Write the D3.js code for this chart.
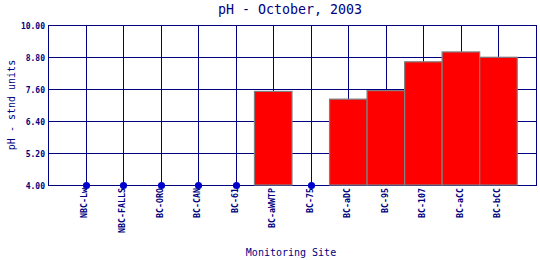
<!DOCTYPE html>
<html>
<head>
<meta charset="utf-8">
<script src="https://cdn.jsdelivr.net/npm/d3@7"></script>
<style>
  body { margin: 0; background: #fff; }
  text { font-family: "DejaVu Sans Mono", monospace; fill: #000080; }
</style>
</head>
<body>
<svg id="chart" width="540" height="260"></svg>
<script>
"use strict";

// sites along the x axis
var sites = ["NBC-Lw", "NBC-FALLS", "BC-ORO", "BC-CAN", "BC-61", "BC-aWWTP",
             "BC-75", "BC-aDC", "BC-95", "BC-107", "BC-aCC", "BC-bCC"];
// pH bars (null = no bar)
var phValues = [null, null, null, null, null, 7.51, null, 7.22, 7.54, 8.62, 8.99, 8.79];
// point series shown at the axis floor
var pointValues = [4.0, 4.0, 4.0, 4.0, 4.0, null, 4.0, null, null, null, null, null];
var yTicks = [4.00, 5.20, 6.40, 7.60, 8.80, 10.00];

var svg = d3.select("#chart");
var plotL = 48, plotR = 536, plotT = 25, plotB = 185;
var navy = "#000080";

var x = d3.scaleLinear().domain([0, sites.length + 1]).range([plotL, plotR]);
var y = d3.scaleLinear().domain([4, 10]).range([plotB, plotT]);
var step = x(1) - x(0);

// grid
var grid = svg.append("g").attr("class", "grid");
d3.range(0, sites.length + 2).forEach(function (i) {
    var xp = Math.round(x(i)) + 0.5;
    grid.append("line").attr("x1", xp).attr("x2", xp)
        .attr("y1", plotT).attr("y2", plotB)
        .attr("stroke", navy).attr("stroke-width", 1);
});
yTicks.forEach(function (t) {
    var yp = Math.round(y(t)) + 0.5;
    grid.append("line").attr("x1", plotL).attr("x2", plotR + 1)
        .attr("y1", yp).attr("y2", yp)
        .attr("stroke", navy).attr("stroke-width", 1);
});

// y axis labels
var yAxis = d3.axisLeft(y).tickValues(yTicks).tickSize(0).tickPadding(3)
    .tickFormat(d3.format(".2f"));
var gY = svg.append("g").attr("transform", "translate(" + plotL + ",0.5)").call(yAxis);
gY.select(".domain").remove();
gY.selectAll("text").style("font-size", "8px").style("font-weight", "bold")
    .attr("fill", navy);

// bars
svg.append("g").selectAll("rect")
    .data(phValues.map(function (v, i) { return { v: v, i: i }; })
        .filter(function (d) { return d.v != null; }))
    .enter().append("rect")
    .attr("x", function (d) { return x(d.i + 1) - step / 2; })
    .attr("width", step)
    .attr("y", function (d) { return y(d.v); })
    .attr("height", function (d) { return y(4) - y(d.v); })
    .attr("fill", "#ff0000")
    .attr("stroke", "#808080")
    .attr("stroke-width", 1.2);

// points
svg.append("g").selectAll("circle")
    .data(pointValues.map(function (v, i) { return { v: v, i: i }; })
        .filter(function (d) { return d.v != null; }))
    .enter().append("circle")
    .attr("cx", function (d) { return Math.round(x(d.i + 1)) + 0.5; })
    .attr("cy", function (d) { return Math.round(y(d.v)) + 0.5; })
    .attr("r", 3.6)
    .attr("fill", "#0000cc");

// x labels
svg.append("g").selectAll("text")
    .data(sites)
    .enter().append("text")
    .attr("transform", function (d, i) {
        return "translate(" + (x(i + 1) - 1) + "," + (plotB + 3) + ") rotate(-90)";
    })
    .attr("text-anchor", "end")
    .attr("dy", "0.35em")
    .style("font-size", "8.3px")
    .style("font-weight", "bold")
    .text(function (d) { return d; });

// titles
svg.append("text").attr("x", 290).attr("y", 14).attr("text-anchor", "middle")
    .style("font-size", "13.3px").text("pH - October, 2003");
svg.append("text").attr("x", 291).attr("y", 256).attr("text-anchor", "middle")
    .style("font-size", "10px").text("Monitoring Site");
svg.append("text").attr("transform", "translate(15," + (plotT + plotB) / 2 + ") rotate(-90)")
    .attr("text-anchor", "middle")
    .style("font-size", "10px").text("pH - stnd units");
</script>
</body>
</html>
